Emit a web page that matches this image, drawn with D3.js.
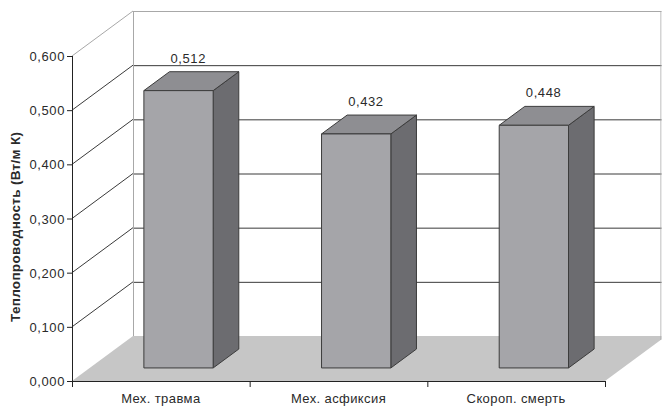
<!DOCTYPE html>
<html>
<head>
<meta charset="utf-8">
<script src="https://cdn.jsdelivr.net/npm/d3@7"></script>
<style>
  html, body { margin: 0; padding: 0; background: #fff; }
  svg { display: block; font-family: "Liberation Sans", Arial, sans-serif; }
</style>
</head>
<body>
<svg id="chart" width="662" height="406"></svg>
<script>
// Thermal conductivity by cause of death
const categories = ["Мех. травма", "Мех. асфиксия", "Скороп. смерть"];
const values = [0.512, 0.432, 0.448];
const valueLabels = ["0,512", "0,432", "0,448"];
const tickValues = [0, 0.1, 0.2, 0.3, 0.4, 0.5, 0.6];
const tickLabels = ["0,000", "0,100", "0,200", "0,300", "0,400", "0,500", "0,600"];
const axisTitle = "Теплопроводность (Вт/м К)";

const svg = d3.select("#chart");

// Oblique 3D frame: front plane plus a depth offset
const front = { left: 72, right: 605, bottom: 381 };
const depthDX = 61, depthDY = 45;
const clipRight = 661;

const x = d3.scaleBand().domain(categories).range([front.left, front.right]);
const h = d3.scaleLinear().domain([0, 0.6]).range([0, 325]);

// project (front x, value, depth 0..1) to screen
function P(fx, v, d) {
  return [fx + d * depthDX, front.bottom - d * depthDY - h(v)];
}

const clip = svg.append("defs").append("clipPath").attr("id", "plotclip");
clip.append("rect").attr("x", 0).attr("y", 0).attr("width", clipRight + 0.5).attr("height", 406);

const walls = svg.append("g").attr("clip-path", "url(#plotclip)");

// floor
const floorPts = [P(front.left, 0, 0), P(front.right, 0, 0), P(front.right, 0, 1), P(front.left, 0, 1)];
walls.append("polygon")
  .attr("points", floorPts.map(p => p.join(",")).join(" "))
  .attr("fill", "#c6c6c6");

// back wall gridlines
walls.selectAll("line.grid")
  .data(tickValues.filter(v => v > 0))
  .join("line")
  .attr("class", "grid")
  .attr("x1", d => P(front.left, d, 1)[0])
  .attr("x2", d => P(front.right, d, 1)[0])
  .attr("y1", d => P(front.left, d, 1)[1] + 0.5)
  .attr("y2", d => P(front.right, d, 1)[1] + 0.5)
  .attr("stroke", d => d === 0.6 ? "#a8a8a8" : "#3a3a3a")
  .attr("stroke-width", 1);

// side wall gridlines
walls.selectAll("line.side")
  .data(tickValues.filter(v => v > 0))
  .join("line")
  .attr("class", "side")
  .attr("x1", d => P(front.left, d, 0)[0])
  .attr("y1", d => P(front.left, d, 0)[1])
  .attr("x2", d => P(front.left, d, 1)[0])
  .attr("y2", d => P(front.left, d, 1)[1])
  .attr("stroke", d => d === 0.6 ? "#a8a8a8" : "#3a3a3a")
  .attr("stroke-width", 1);

// wall corner edges
walls.append("line")
  .attr("x1", P(front.left, 0, 1)[0] + 0.5).attr("x2", P(front.left, 0, 1)[0] + 0.5)
  .attr("y1", P(front.left, 0, 1)[1]).attr("y2", P(front.left, 0.6, 1)[1])
  .attr("stroke", "#a8a8a8");
walls.append("line")
  .attr("x1", clipRight).attr("x2", clipRight)
  .attr("y1", P(front.left, 0, 1)[1] + 4).attr("y2", P(front.left, 0.6, 1)[1])
  .attr("stroke", "#a8a8a8");

// bars
const barFrac = 0.39, dFront = 0.29, dBack = 0.71;
const bars = svg.append("g");
categories.forEach((c, i) => {
  const v = values[i];
  const cx = x(c) + x.bandwidth() / 2;
  const l = cx - x.bandwidth() * barFrac / 2, r = cx + x.bandwidth() * barFrac / 2;
  const g = bars.append("g").attr("stroke", "#3c3c3c").attr("stroke-width", 1).attr("stroke-linejoin", "round");
  const poly = (pts, fill) => g.append("polygon")
    .attr("points", pts.map(p => p.join(",")).join(" ")).attr("fill", fill);
  // side face
  poly([P(r, 0, dFront), P(r, 0, dBack), P(r, v, dBack), P(r, v, dFront)], "#6c6c70");
  // top face
  poly([P(l, v, dFront), P(r, v, dFront), P(r, v, dBack), P(l, v, dBack)], "#8e8e92");
  // front face
  poly([P(l, 0, dFront), P(r, 0, dFront), P(r, v, dFront), P(l, v, dFront)], "#a5a5a9");
  // value label
  const top = P(cx, v, dBack);
  svg.append("text")
    .attr("x", cx + depthDX * 0.45)
    .attr("y", top[1] - 9)
    .attr("text-anchor", "middle")
    .attr("font-size", 13)
    .attr("letter-spacing", 0.6)
    .attr("fill", "#2a2a2a")
    .text(valueLabels[i]);
});

// value axis
const ax = svg.append("g");
ax.append("line")
  .attr("x1", front.left + 0.5).attr("x2", front.left + 0.5)
  .attr("y1", P(front.left, 0, 0)[1]).attr("y2", P(front.left, 0.6, 0)[1])
  .attr("stroke", "#222");
ax.selectAll("line.tick")
  .data(tickValues)
  .join("line")
  .attr("x1", front.left - 5).attr("x2", front.left)
  .attr("y1", d => P(front.left, d, 0)[1] + 0.5)
  .attr("y2", d => P(front.left, d, 0)[1] + 0.5)
  .attr("stroke", "#222");
ax.selectAll("text")
  .data(tickValues)
  .join("text")
  .attr("x", front.left - 7)
  .attr("y", d => P(front.left, d, 0)[1] + 5)
  .attr("text-anchor", "end")
  .attr("font-size", 13)
  .attr("letter-spacing", 0.6)
  .attr("fill", "#2a2a2a")
  .text((d, i) => tickLabels[i]);

// category axis
const cax = svg.append("g");
cax.append("line")
  .attr("x1", front.left).attr("x2", front.right)
  .attr("y1", front.bottom + 0.5).attr("y2", front.bottom + 0.5)
  .attr("stroke", "#222");
const bounds = categories.map(c => x(c)).concat([front.right]);
cax.selectAll("line.tick")
  .data(bounds)
  .join("line")
  .attr("x1", d => d + 0.5).attr("x2", d => d + 0.5)
  .attr("y1", front.bottom).attr("y2", front.bottom + 6)
  .attr("stroke", "#222");
cax.selectAll("text")
  .data(categories)
  .join("text")
  .attr("x", d => x(d) + x.bandwidth() / 2)
  .attr("y", 403)
  .attr("text-anchor", "middle")
  .attr("font-size", 13)
  .attr("letter-spacing", 0.4)
  .attr("fill", "#2a2a2a")
  .text(d => d);

// value axis title
svg.append("text")
  .attr("transform", "translate(20,227) rotate(-90)")
  .attr("text-anchor", "middle")
  .attr("font-size", 13.5)
  .attr("font-weight", "bold")
  .attr("textLength", 190)
  .attr("lengthAdjust", "spacing")
  .attr("fill", "#2a2a2a")
  .text(axisTitle);
</script>
</body>
</html>
